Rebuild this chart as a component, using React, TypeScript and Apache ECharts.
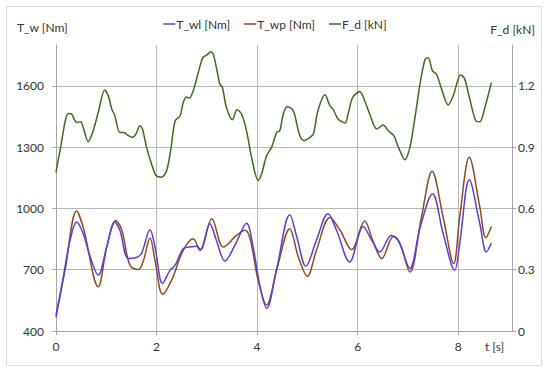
import React, { useEffect, useRef } from "react";
import * as echarts from "echarts";

// time [s], T_wl [Nm]
const tWl: [number, number][] = [
  [0.0, 478], [0.145, 665], [0.28, 844], [0.41, 933], [0.54, 877], [0.68, 763],
  [0.84, 673], [1.01, 813], [1.17, 933], [1.27, 893], [1.44, 755], [1.6, 760],
  [1.7, 779], [1.87, 896], [1.97, 811], [2.12, 633], [2.27, 698], [2.37, 722],
  [2.53, 803], [2.66, 811], [2.8, 815], [2.88, 798], [3.06, 925], [3.19, 844],
  [3.36, 743], [3.56, 820], [3.79, 928], [3.92, 811], [4.06, 616], [4.19, 511],
  [4.39, 705], [4.65, 969], [4.79, 860], [4.97, 717], [5.18, 844], [5.41, 974],
  [5.58, 893], [5.84, 738], [6.11, 912], [6.28, 844], [6.44, 787], [6.67, 868],
  [6.81, 844], [7.04, 706], [7.24, 905], [7.49, 1072], [7.7, 877], [7.93, 698],
  [8.03, 828], [8.22, 1140], [8.43, 925], [8.56, 787], [8.66, 831],
];

// time [s], T_wp [Nm]
const tWp: [number, number][] = [
  [0.0, 467], [0.18, 698], [0.41, 987], [0.54, 909], [0.84, 616], [1.01, 811],
  [1.19, 941], [1.31, 893], [1.47, 722], [1.64, 701], [1.74, 745], [1.87, 855],
  [1.97, 746], [2.12, 580], [2.3, 649], [2.53, 795], [2.73, 852], [2.86, 795],
  [3.1, 950], [3.33, 811], [3.59, 868], [3.76, 893], [3.86, 852], [4.02, 649],
  [4.19, 527], [4.39, 700], [4.65, 901], [4.82, 762], [5.0, 668], [5.18, 795],
  [5.45, 955], [5.65, 893], [5.88, 798], [6.14, 938], [6.3, 844], [6.48, 755],
  [6.71, 863], [6.84, 828], [7.04, 689], [7.27, 958], [7.48, 1182], [7.7, 958],
  [7.91, 730], [8.03, 958], [8.22, 1250], [8.43, 1006], [8.55, 857], [8.66, 912],
];

// time [s], F_d [kN]
const fD: [number, number][] = [
  [0.0, 0.777], [0.08, 0.883], [0.245, 1.065], [0.31, 1.062], [0.41, 1.021],
  [0.49, 1.024], [0.54, 0.997], [0.64, 0.927], [0.74, 0.98], [0.84, 1.07],
  [0.97, 1.18], [1.04, 1.151], [1.11, 1.086], [1.17, 1.054], [1.27, 0.972],
  [1.35, 0.972], [1.44, 0.956], [1.52, 0.948], [1.59, 0.964], [1.67, 1.005],
  [1.72, 0.989], [1.8, 0.9], [1.9, 0.818], [1.99, 0.761], [2.1, 0.753],
  [2.2, 0.785], [2.28, 0.883], [2.37, 1.029], [2.47, 1.054], [2.53, 1.119],
  [2.6, 1.146], [2.65, 1.14], [2.73, 1.176], [2.83, 1.265], [2.92, 1.338],
  [3.0, 1.351], [3.08, 1.367], [3.13, 1.354], [3.19, 1.29], [3.26, 1.208],
  [3.31, 1.192], [3.39, 1.094], [3.51, 1.034], [3.6, 1.083], [3.69, 1.062],
  [3.79, 0.98], [3.89, 0.85], [4.02, 0.737], [4.09, 0.77], [4.19, 0.859],
  [4.29, 0.9], [4.39, 0.972], [4.45, 0.98], [4.52, 1.062], [4.6, 1.099],
  [4.72, 1.078], [4.79, 1.013], [4.85, 0.956], [4.93, 0.932], [5.05, 0.948],
  [5.12, 0.964], [5.21, 1.078], [5.35, 1.156], [5.45, 1.102], [5.51, 1.086],
  [5.61, 1.038], [5.75, 1.018], [5.81, 1.062], [5.9, 1.143], [6.04, 1.172],
  [6.14, 1.127], [6.24, 1.062], [6.38, 0.989], [6.51, 1.008], [6.61, 0.98],
  [6.72, 0.956], [6.81, 0.9], [6.94, 0.838], [7.04, 0.9], [7.14, 1.046],
  [7.24, 1.208], [7.34, 1.33], [7.4, 1.338], [7.49, 1.273], [7.57, 1.257],
  [7.67, 1.184], [7.8, 1.106], [7.9, 1.151], [8.05, 1.254], [8.13, 1.233],
  [8.23, 1.135], [8.35, 1.029], [8.43, 1.024], [8.53, 1.094], [8.66, 1.216],
];

const xTicks = [0, 2, 4, 6, 8];
const leftTicks = [400, 700, 1000, 1300, 1600];
const rightTicks = [0, 0.3, 0.6, 0.9, 1.2];

const FONT = "Lato";
const TXT = "#333333";
const AXIS = "#a6a6a6";
const GRID = "#b8b8b8";

const plain = (v: number) => String(v);

export default function App() {
  const ref = useRef<HTMLDivElement>(null);
  useEffect(() => {
    if (!ref.current) return;
    const chart = echarts.init(ref.current, undefined, { renderer: "svg" });
    chart.setOption({
      animation: false,
      backgroundColor: "#ffffff",
      textStyle: { fontFamily: FONT, color: TXT },
      grid: { left: 56, right: 38, top: 45, bottom: 41, containLabel: false },
      legend: {
        top: 13,
        left: "center",
        icon: "rect",
        itemWidth: 12,
        itemHeight: 1.5,
        itemGap: 14,
        textStyle: { fontFamily: FONT, fontSize: 12, color: TXT, padding: [0, 0, 0, -4] },
        data: ["T_wl [Nm]", "T_wp [Nm]", "F_d [kN]"],
      },
      xAxis: {
        type: "value",
        min: 0,
        max: 9.07,
        interval: 2,
        axisLine: { show: true, lineStyle: { color: AXIS, width: 1 } },
        axisTick: { show: true, length: 4, lineStyle: { color: AXIS }, customValues: xTicks },
        axisLabel: { fontFamily: FONT, fontSize: 12, color: TXT, margin: 9, customValues: xTicks, formatter: plain },
        splitLine: { show: true, lineStyle: { color: GRID, width: 1 } },
      },
      yAxis: [
        {
          type: "value",
          min: 400,
          max: 1800,
          interval: 300,
          position: "left",
          axisLine: { show: true, lineStyle: { color: AXIS, width: 1 } },
          axisTick: { show: true, length: 4, lineStyle: { color: AXIS }, customValues: leftTicks },
          axisLabel: { fontFamily: FONT, fontSize: 12, color: TXT, margin: 12, customValues: leftTicks, formatter: plain },
          splitLine: { show: true, lineStyle: { color: GRID, width: 1 } },
        },
        {
          type: "value",
          min: 0,
          max: 1.4,
          interval: 0.3,
          position: "right",
          axisLine: { show: true, lineStyle: { color: AXIS, width: 1 } },
          axisTick: { show: true, length: 4, lineStyle: { color: AXIS }, customValues: rightTicks },
          axisLabel: { fontFamily: FONT, fontSize: 12, color: TXT, margin: 6, customValues: rightTicks, formatter: plain },
          splitLine: { show: false },
        },
      ],
      graphic: [
        {
          type: "rect",
          shape: { x: 6.5, y: 6.5, width: 535, height: 359 },
          style: { fill: "none", stroke: "#d9d9d9", lineWidth: 1 },
          silent: true,
        },
        {
          type: "text",
          left: 17,
          top: 21,
          style: { text: "T_w [Nm]", fontFamily: FONT, fontSize: 12, fill: TXT },
        },
        {
          type: "text",
          right: 15,
          top: 23,
          style: { text: "F_d [kN]", fontFamily: FONT, fontSize: 12, fill: TXT },
        },
        {
          type: "text",
          left: 485,
          top: 340,
          style: { text: "t [s]", fontFamily: FONT, fontSize: 12, fill: TXT },
        },
      ],
      series: [
        {
          name: "T_wl [Nm]",
          type: "line",
          yAxisIndex: 0,
          data: tWl,
          smooth: 0.35,
          showSymbol: false,
          symbol: "none",
          lineStyle: { color: "#5b3fd6", width: 1.5 },
          itemStyle: { color: "#5b3fd6" },
          z: 3,
        },
        {
          name: "T_wp [Nm]",
          type: "line",
          yAxisIndex: 0,
          data: tWp,
          smooth: 0.35,
          showSymbol: false,
          symbol: "none",
          lineStyle: { color: "#8f4a24", width: 1.5 },
          itemStyle: { color: "#8f4a24" },
          z: 2,
        },
        {
          name: "F_d [kN]",
          type: "line",
          yAxisIndex: 1,
          data: fD,
          smooth: 0.3,
          showSymbol: false,
          symbol: "none",
          lineStyle: { color: "#3b6c1c", width: 1.5 },
          itemStyle: { color: "#3b6c1c" },
          z: 2,
        },
      ],
    });
    return () => chart.dispose();
  }, []);
  return (
    <div
      ref={ref}
      style={{ position: "absolute", left: 0, top: 0, width: 550, height: 372 }}
    />
  );
}
